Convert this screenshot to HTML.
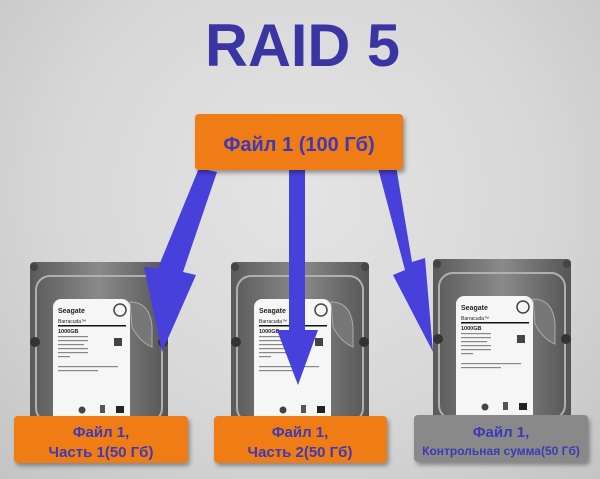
<!DOCTYPE html>
<html><head><meta charset="utf-8"><style>
body{margin:0;width:600px;height:479px;overflow:hidden;background:radial-gradient(ellipse at 50% 40%,#e4e4e4 0%,#d8d8d8 55%,#c4c4c4 100%);font-family:"Liberation Sans","DejaVu Sans",sans-serif;}
svg{position:absolute;left:0;top:0}
</style></head><body>
<svg width="600" height="479" viewBox="0 0 600 479">
<defs>
<linearGradient id="hd" x1="0" x2="1"><stop offset="0" stop-color="#5a5a5a"/><stop offset=".5" stop-color="#8a8a8a"/><stop offset="1" stop-color="#555"/></linearGradient>
<filter id="sh" x="-10%" y="-10%" width="130%" height="140%"><feDropShadow dx="2" dy="3" stdDeviation="2" flood-opacity=".35"/></filter>
<g id="disk">
<rect x="0" y="0" width="138" height="160" rx="4" fill="url(#hd)"/>
<rect x="6" y="14" width="126" height="146" rx="14" fill="none" stroke="#b0b0b0" stroke-width="2"/>
<circle cx="4" cy="5" r="4" fill="#444"/><circle cx="134" cy="5" r="4" fill="#444"/>
<circle cx="5" cy="80" r="5" fill="#333"/><circle cx="133" cy="80" r="5" fill="#333"/>
<path d="M100 40 q20 0 22 25 l0 20 q-12 -5 -20 -20 z" fill="#777" stroke="#aaa"/>
<rect x="23" y="37" width="77" height="126" rx="8" fill="#f6f6f6"/>
<text x="28" y="51" font-size="7" font-weight="bold" fill="#222">Seagate</text>
<circle cx="90" cy="48" r="6" fill="none" stroke="#444" stroke-width="1.5"/>
<text x="28" y="61" font-size="5" fill="#222">Barracuda™</text>
<rect x="28" y="63" width="68" height="1.5" fill="#111"/>
<text x="28" y="71" font-size="5.5" font-weight="bold" fill="#222">1000GB</text>
<g fill="#888"><rect x="28" y="74" width="30" height="1.2"/><rect x="28" y="78" width="30" height="1.2"/><rect x="28" y="82" width="26" height="1.2"/><rect x="28" y="86" width="30" height="1.2"/><rect x="28" y="90" width="30" height="1.2"/><rect x="28" y="94" width="12" height="1.2"/><rect x="28" y="104" width="60" height="1.2"/><rect x="28" y="108" width="40" height="1.2"/></g>
<rect x="84" y="76" width="8" height="8" fill="#444"/>
<circle cx="52" cy="148" r="3.5" fill="#444"/><rect x="70" y="143" width="5" height="8" fill="#555"/><rect x="86" y="144" width="8" height="7" fill="#222"/>
</g>
</defs>
<text x="205" y="66" font-size="60" font-weight="bold" fill="#3a35a2" textLength="195" lengthAdjust="spacingAndGlyphs">RAID 5</text>

<use href="#disk" x="30" y="262"/>
<use href="#disk" x="231" y="262"/>
<use href="#disk" x="433" y="259"/>

<g fill="#4840da">
<polygon points="199,168 217,172 183,272 196,275 162,352 144,267 158,268"/>
<polygon points="289,168 305,168 305,330 318,330 298,385 277,330 289,330"/>
<polygon points="378,168 396,166 412,262 425,258 433,352 393,275 405,270"/>
</g>

<g filter="url(#sh)">
<rect x="195" y="114" width="208" height="56" rx="4" fill="#f07c14"/>
<rect x="14" y="416" width="174" height="47" rx="4" fill="#f07c14"/>
<rect x="214" y="416" width="173" height="47" rx="4" fill="#f07c14"/>
<rect x="414" y="415" width="174" height="47" rx="4" fill="#898989"/>
</g>
<text x="299" y="151" text-anchor="middle" font-size="20" font-weight="bold" fill="#3d3ab4">Файл 1 (100 Гб)</text>
<g font-weight="bold" fill="#3d3ab4" text-anchor="middle">
<text x="101" y="437" font-size="15">Файл 1,</text><text x="101" y="457" font-size="15">Часть 1(50 Гб)</text>
<text x="300" y="437" font-size="15">Файл 1,</text><text x="300" y="457" font-size="15">Часть 2(50 Гб)</text>
<text x="501" y="437" font-size="15">Файл 1,</text><text x="501" y="455" font-size="12">Контрольная сумма(50 Гб)</text>
</g>
</svg>
</body></html>
